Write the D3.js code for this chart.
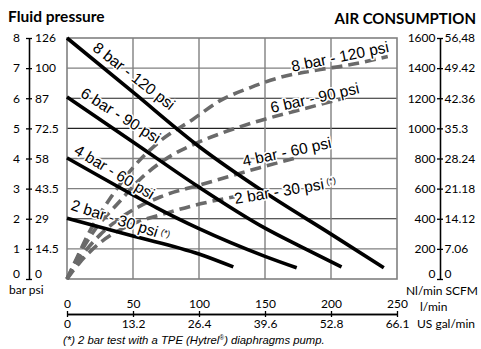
<!DOCTYPE html>
<html><head><meta charset="utf-8">
<script src="https://cdn.jsdelivr.net/npm/d3@7"></script>
<style>
body{margin:0;background:#fff;}
svg{display:block;}
</style></head>
<body>
<svg id="c" width="481" height="349"></svg>
<script>
// ---- data ----
const flowTicks = [0, 50, 100, 150, 200, 250];
const galLabels = ["0", "13.2", "26.4", "39.6", "52.8", "66.1"];
const barTicks = [0, 1, 2, 3, 4, 5, 6, 7, 8];
const psiLabels = ["0", "14.5", "29", "43.5", "58", "72.5", "87", "100", "126"];
const nlTicks = [0, 200, 400, 600, 800, 1000, 1200, 1400, 1600];
const scfmLabels = ["0", "7.06", "14.12", "21.18", "28.24", "35.3", "42.36", "49.42", "56,48"];

// fluid pressure (bar) vs flow (l/min)
const p8Flow = [0, 50, 100, 150, 200, 240];
const p8Bar  = [8.0, 6.2, 4.4, 2.87, 1.49, 0.37];
const p6Flow = [0, 50, 100, 150, 176, 208];
const p6Bar  = [6.04, 4.55, 3.05, 1.69, 1.1, 0.4];
const p4Flow = [0, 50, 68, 100, 150, 174];
const p4Bar  = [4.02, 2.79, 2.36, 1.67, 0.75, 0.37];
const p2Flow = [0, 50, 100, 126];
const p2Bar  = [2.02, 1.43, 0.83, 0.4];

// air consumption (Nl/min) vs flow (l/min)
const a8Flow = [0, 6, 17, 33, 50, 70, 95, 116, 139, 161, 192, 211, 243];
const a8Nl   = [0, 113, 313, 539, 739, 912, 1058, 1184, 1271, 1337, 1391, 1417, 1477];
const a6Flow = [0, 8, 21, 39, 55, 74, 97, 118, 146, 177, 211];
const a6Nl   = [0, 140, 326, 506, 659, 792, 898, 971, 1051, 1124, 1204];
const a4Flow = [0, 10, 25, 44, 71, 101, 122, 146, 174];
const a4Nl   = [0, 140, 293, 426, 546, 625, 679, 739, 805];
const a2Flow = [0, 10, 25, 48, 76, 101, 127];
const a2Nl   = [0, 113, 240, 359, 439, 499, 546];

const solidNames = ["8 bar - 120 psi", "6 bar - 90 psi", "4 bar - 60 psi", "2 bar - 30 psi"];

// ---- drawing ----
const svg = d3.select("#c");
const X0 = 67, X1 = 397, Y0 = 279, Y1 = 38;
const x = d3.scaleLinear([0, 250], [X0, X1]);
const y = d3.scaleLinear([0, 8], [Y0, Y1]);
const yR = d3.scaleLinear([0, 1600], [Y0, Y1]);

const axisFont = "Lato, 'Open Sans', sans-serif";
const plotFont = "'Liberation Sans', Arial, sans-serif";

// grid
const g = svg.append("g");
g.selectAll("line.h").data(barTicks.slice(1, 8)).join("line")
  .attr("x1", X0).attr("x2", X1)
  .attr("y1", d => y(d)).attr("y2", d => y(d))
  .attr("stroke", d => (d === 2 || d === 6 || d === 5) ? "#222" : "#808080")
  .attr("stroke-width", d => (d === 2 || d === 6 || d === 5) ? 1.1 : 1.4);
g.selectAll("line.v").data(flowTicks.slice(1, 5)).join("line")
  .attr("y1", Y1).attr("y2", Y0)
  .attr("x1", d => x(d)).attr("x2", d => x(d))
  .attr("stroke", "#808080").attr("stroke-width", 1.4);
g.append("rect").attr("x", X0).attr("y", Y1).attr("width", X1 - X0).attr("height", Y0 - Y1)
  .attr("fill", "none").attr("stroke", "#808080").attr("stroke-width", 1.6);

// curves
const zip = (a, b) => a.map((v, i) => [v, b[i]]);
const lineP = d3.line().x(d => x(d[0])).y(d => y(d[1])).curve(d3.curveMonotoneX);
const lineA = d3.line().x(d => x(d[0])).y(d => yR(d[1])).curve(d3.curveMonotoneX);

const airSeries = [zip(a8Flow, a8Nl), zip(a6Flow, a6Nl), zip(a4Flow, a4Nl), zip(a2Flow, a2Nl)];
const presSeries = [zip(p8Flow, p8Bar), zip(p6Flow, p6Bar), zip(p4Flow, p4Bar), zip(p2Flow, p2Bar)];

svg.append("g").selectAll("path").data(airSeries).join("path")
  .attr("d", lineA).attr("fill", "none").attr("stroke", "#6a6a6a")
  .attr("stroke-width", 3.6).attr("stroke-dasharray", "11,6");
svg.append("g").selectAll("path").data(presSeries).join("path")
  .attr("d", lineP).attr("fill", "none").attr("stroke", "#000")
  .attr("stroke-width", 3.6);

// labels (annotation positions in data space: flow, bar; angle)
const solidLab = [
  {q: 48.3, p: 6.6, a: 38},
  {q: 38.6, p: 5.28, a: 32},
  {q: 33.9, p: 3.4, a: 31},
  {q: 39.4, p: 1.78, a: 18}
];
const dashLab = [
  {q: 207.6, p: 7.21, a: -11.5},
  {q: 188.6, p: 5.84, a: -12.8},
  {q: 167.4, p: 4.05, a: -12},
  {q: 166, p: 2.77, a: -9.5}
];
function addLabel(lab, txt, star) {
  const t = svg.append("text")
    .attr("transform", `translate(${x(lab.q)},${y(lab.p)}) rotate(${lab.a})`)
    .attr("text-anchor", "middle")
    .attr("font-family", plotFont).attr("font-size", 15.5)
    .attr("fill", "#000")
    .attr("stroke", "#fff").attr("stroke-width", 3).attr("paint-order", "stroke")
    .attr("stroke-linejoin", "round");
  t.append("tspan").text(txt);
  if (star) t.append("tspan").attr("font-size", 9).attr("dx", 3).attr("dy", -4).text("(*)");
}
solidLab.forEach((l, i) => addLabel(l, solidNames[i], i === 3));
dashLab.forEach((l, i) => addLabel(l, solidNames[i], i === 3));

// axes
function styleAxis(sel) {
  sel.selectAll("path.domain").attr("stroke", "#000").attr("stroke-width", 1.3);
  sel.selectAll(".tick line").attr("stroke", "#000").attr("stroke-width", 1.3);
  sel.selectAll("text").attr("font-family", axisFont).attr("font-size", 12).attr("fill", "#000");
}
const gL1 = svg.append("g").attr("transform", "translate(29,0)")
  .call(d3.axisLeft(y).tickValues(barTicks).tickFormat(d3.format("d")).tickSize(3).tickSizeOuter(0).tickPadding(6));
styleAxis(gL1);
const gL2 = svg.append("g").attr("transform", "translate(29,0)")
  .call(d3.axisRight(y).tickValues(barTicks).tickFormat((d, i) => psiLabels[i]).tickSize(3).tickSizeOuter(0).tickPadding(3));
styleAxis(gL2);

const gR1 = svg.append("g").attr("transform", "translate(440,0)")
  .call(d3.axisLeft(yR).tickValues(nlTicks).tickFormat(d3.format("d")).tickSize(3).tickSizeOuter(0).tickPadding(1.5));
styleAxis(gR1);
const gR2 = svg.append("g").attr("transform", "translate(440,0)")
  .call(d3.axisRight(yR).tickValues(nlTicks).tickFormat((d, i) => scfmLabels[i]).tickSize(3).tickSizeOuter(0).tickPadding(1.5));
styleAxis(gR2);

// nudge zero labels up slightly so they sit above the unit captions
[gL1, gL2, gR1, gR2].forEach(a => a.selectAll(".tick").filter(d => d === 0).select("text").attr("dy", "-0.1em"));

const gB1 = svg.append("g").attr("transform", "translate(0,314)")
  .call(d3.axisTop(x).tickValues(flowTicks).tickFormat(d3.format("d")).tickSize(3).tickSizeOuter(0).tickPadding(3));
styleAxis(gB1);
const gB2 = svg.append("g").attr("transform", "translate(0,314)")
  .call(d3.axisBottom(x).tickValues(flowTicks).tickFormat((d, i) => galLabels[i]).tickSize(3).tickSizeOuter(0).tickPadding(2));
styleAxis(gB2);

// texts
const txt = (xx, yy, s, opts = {}) => svg.append("text").attr("x", xx).attr("y", yy)
  .attr("font-family", opts.font || axisFont).attr("font-size", opts.size || 12)
  .attr("font-weight", opts.weight || "normal").attr("font-style", opts.style || "normal")
  .attr("text-anchor", opts.anchor || "start").attr("fill", "#000").text(s);
txt(8, 22, "Fluid pressure", {size: 15.5, weight: "bold"});
txt(476, 24, "AIR CONSUMPTION", {size: 15, weight: "bold", anchor: "end"});
txt(9, 294, "bar psi");
txt(478, 295, "Nl/min SCFM", {anchor: "end"});
txt(420, 311, "l/min");
txt(417, 328, "US gal/min");
const fn = txt(63, 344, "(*) 2 bar test with a TPE (Hytrel", {font: plotFont, size: 11.3, style: "italic"});
fn.append("tspan").attr("font-size", 6.5).attr("dy", -4).text("®");
fn.append("tspan").attr("dy", 4).text(") diaphragms pump.");
</script>
</body></html>
